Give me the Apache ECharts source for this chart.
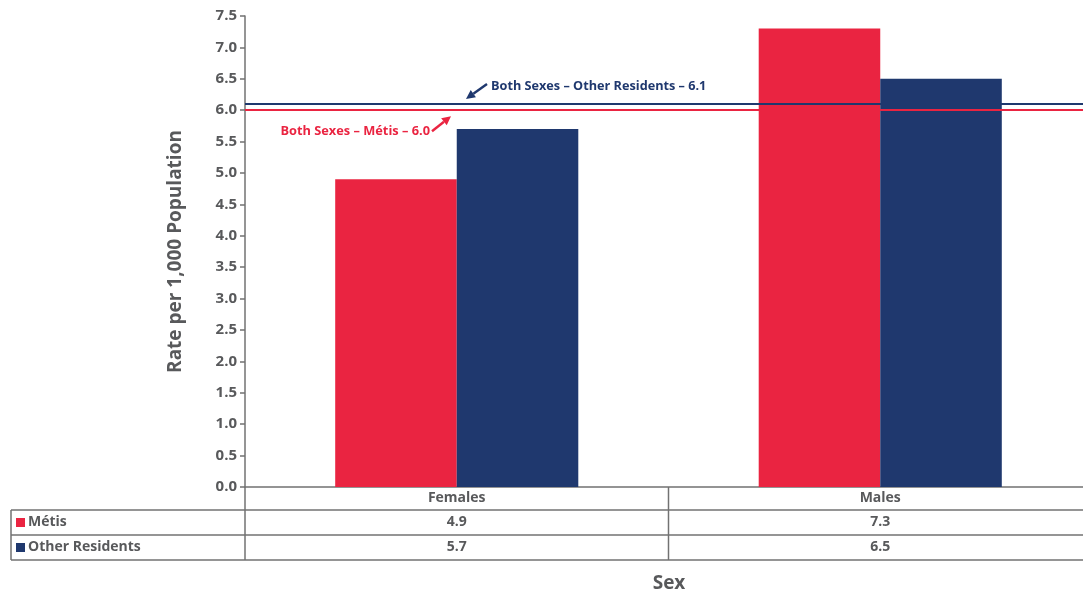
<!DOCTYPE html>
<html><head><meta charset="utf-8">
<script src="https://cdn.jsdelivr.net/npm/echarts@6/dist/echarts.min.js"></script>
<style>html,body{margin:0;padding:0;background:#fff}#c{width:1083px;height:593px}</style>
</head><body><div id="c"></div>
<script>
const categories = ['Females', 'Males'];
const seriesNames = ['Métis', 'Other Residents'];
const metisValues = [4.9, 7.3];
const otherValues = [5.7, 6.5];
const refValues = [6.0, 6.1];
const refLabels = ['Both Sexes – Métis – 6.0', 'Both Sexes – Other Residents – 6.1'];
const yAxisTitle = 'Rate per 1,000 Population';
const xAxisTitle = 'Sex';

const RED = '#EA2441';
const NAVY = '#1F386E';
const GRAY = '#58595B';
const LINE = '#727272';
const FONT = '"Open Sans", sans-serif';

const chart = echarts.init(document.getElementById('c'), null, {renderer: 'canvas'});
chart.setOption({
  animation: false,
  grid: {left: 245, top: 16, width: 847, height: 471, containLabel: false, outerBoundsMode: 'none'},
  xAxis: {
    type: 'category', data: categories,
    axisLine: {show: true, lineStyle: {color: LINE, width: 1.5}},
    axisTick: {show: false}, axisLabel: {show: false}
  },
  yAxis: {
    type: 'value', min: 0, max: 7.5, interval: 0.5,
    name: yAxisTitle, nameLocation: 'middle', nameGap: 60, nameRotate: 90,
    nameTextStyle: {color: GRAY, fontSize: 19, fontWeight: 'bold', fontFamily: FONT},
    axisLine: {show: true, lineStyle: {color: LINE, width: 1.5}},
    axisTick: {show: true, length: 5, lineStyle: {color: LINE, width: 1.5}},
    axisLabel: {color: GRAY, fontSize: 15, fontWeight: 'bold', fontFamily: FONT, margin: 8,
      formatter: v => v.toFixed(1)},
    splitLine: {show: false}
  },
  series: [
    {name: seriesNames[0], type: 'bar', data: metisValues, barGap: 0, barCategoryGap: '42.6%',
      itemStyle: {color: RED},
      markLine: {silent: true, symbol: ['none', 'none'], label: {show: false},
        lineStyle: {color: RED, width: 2, type: 'solid'}, data: [{yAxis: refValues[0]}]}},
    {name: seriesNames[1], type: 'bar', data: otherValues, barGap: 0, barCategoryGap: '42.6%',
      itemStyle: {color: NAVY},
      markLine: {silent: true, symbol: ['none', 'none'], label: {show: false},
        lineStyle: {color: NAVY, width: 2, type: 'solid'}, data: [{yAxis: refValues[1]}]}}
  ]
});

function px(cat, val) { return chart.convertToPixel({gridIndex: 0}, [cat, val]); }
const g = [];
const W = 1083;
const axisY = px(0, 0)[1];
const gridLeft = 245;
const catW = px(1, 0)[0] - px(0, 0)[0];
const dividerX = px(0, 0)[0] + catW / 2;
const rowH = [23, 25, 25];
const r1 = axisY + rowH[0], r2 = r1 + rowH[1], r3 = r2 + rowH[2];
function hline(x1, x2, y) { g.push({type: 'line', shape: {x1, y1: y, x2, y2: y}, style: {stroke: LINE, lineWidth: 1.5}}); }
function vline(x, y1, y2) { g.push({type: 'line', shape: {x1: x, y1, x2: x, y2}, style: {stroke: LINE, lineWidth: 1.5}}); }
hline(11, W, r1); hline(11, W, r2); hline(11, W, r3);
vline(11, r1, r3); vline(gridLeft, axisY, r3); vline(dividerX, axisY, r3);
function txt(t, x, y, color, size, align) {
  g.push({type: 'text', x, y, style: {text: t, fill: color, font: 'bold ' + size + 'px ' + FONT, textAlign: align || 'center', textVerticalAlign: 'middle'}});
}
categories.forEach((c, i) => {
  const cx = px(i, 0)[0];
  txt(c, cx, axisY + rowH[0] / 2, GRAY, 14);
  txt(metisValues[i].toFixed(1), cx, r1 + rowH[1] / 2, GRAY, 14);
  txt(otherValues[i].toFixed(1), cx, r2 + rowH[2] / 2, GRAY, 14);
});
[[seriesNames[0], RED, r1 + rowH[1] / 2], [seriesNames[1], NAVY, r2 + rowH[2] / 2]].forEach(([n, col, y]) => {
  g.push({type: 'rect', shape: {x: 16, y: y - 4.5, width: 9, height: 9}, style: {fill: col}});
  txt(n, 28, y, GRAY, 14, 'left');
});
txt(xAxisTitle, 669, 584, GRAY, 19);

function arrow(x1, y1, x2, y2, col) {
  const a = Math.atan2(y2 - y1, x2 - x1), L = 9, Wd = 4.5;
  const bx = x2 - L * Math.cos(a), by = y2 - L * Math.sin(a);
  g.push({type: 'line', shape: {x1, y1, x2: bx, y2: by}, style: {stroke: col, lineWidth: 2.4}});
  g.push({type: 'polygon', shape: {points: [[x2, y2], [bx + Wd * Math.sin(a), by - Wd * Math.cos(a)], [bx - Wd * Math.sin(a), by + Wd * Math.cos(a)]]}, style: {fill: col}});
}
const yOther = px(0, refValues[1])[1];
const yMetis = px(0, refValues[0])[1];
txt(refLabels[1], 491, yOther - 18, NAVY, 12.7, 'left');
arrow(487, yOther - 20, 466, yOther - 5, NAVY);
txt(refLabels[0], 430, yMetis + 21, RED, 12.8, 'right');
arrow(432, yMetis + 21, 451, yMetis + 6, RED);

chart.setOption({graphic: {elements: g}});
</script></body></html>
